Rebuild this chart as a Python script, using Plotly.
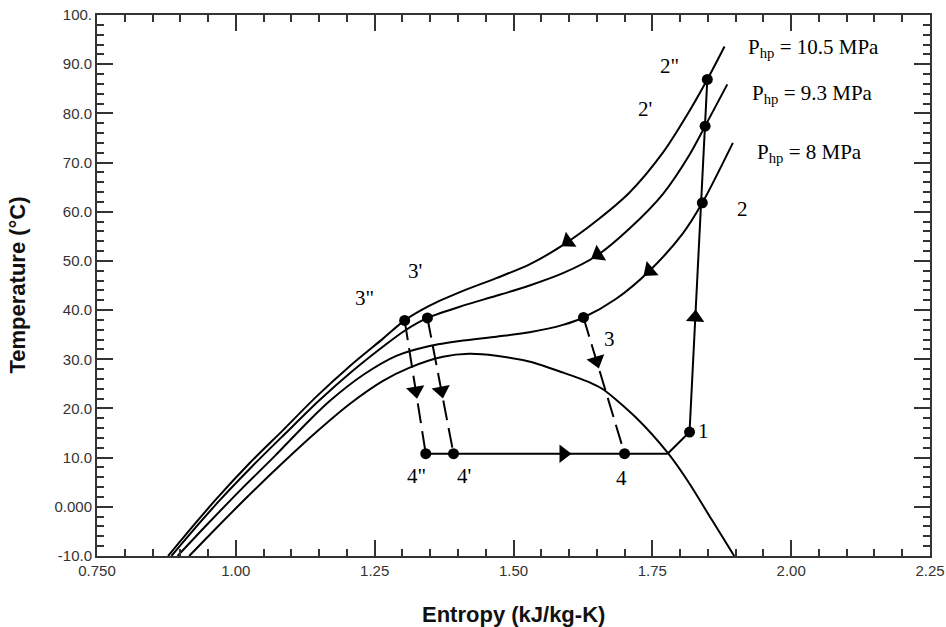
import numpy as np
import plotly.graph_objects as go

# ---------------- data ----------------
# saturation dome of CO2
dome_s = [0.916, 0.965, 1.025, 1.085, 1.145, 1.205, 1.265, 1.313, 1.373, 1.42,
          1.469, 1.53, 1.589, 1.637, 1.661, 1.72, 1.7775, 1.8135, 1.858, 1.8975]
dome_T = [-10.0, -4.3, 2.5, 9.0, 15.2, 20.9, 25.6, 28.3, 30.5, 31.1,
          30.7, 29.5, 27.3, 25.3, 23.9, 18.2, 11.0, 5.3, -2.8, -10.0]

# isobar Php = 10.5 MPa
p105_s = [0.878, 0.905, 0.965, 1.025, 1.085, 1.145, 1.205, 1.265, 1.304, 1.349,
          1.409, 1.469, 1.529, 1.589, 1.649, 1.709, 1.769, 1.81, 1.849, 1.88]
p105_T = [-10.0, -6.3, 1.6, 8.9, 15.6, 22.4, 28.6, 34.2, 37.9, 40.9,
          43.9, 46.5, 49.3, 53.2, 58.1, 63.9, 72.0, 79.2, 86.9, 93.6]

# isobar Php = 9.3 MPa
p93_s = [0.884, 0.91, 0.97, 1.03, 1.09, 1.15, 1.21, 1.27, 1.304, 1.345,
         1.409, 1.469, 1.529, 1.589, 1.649, 1.709, 1.769, 1.817, 1.845, 1.885]
p93_T = [-10.0, -6.5, 1.2, 8.3, 15.0, 21.6, 27.6, 33.0, 35.8, 38.4,
         40.9, 42.9, 45.0, 47.5, 51.0, 56.6, 63.6, 71.6, 77.4, 85.9]

# isobar Php = 8 MPa
p80_s = [0.895, 0.95, 1.01, 1.07, 1.13, 1.17, 1.229, 1.289, 1.349, 1.409,
         1.469, 1.529, 1.589, 1.626, 1.685, 1.745, 1.805, 1.84, 1.895]
p80_T = [-10.0, -3.4, 3.6, 10.3, 17.3, 21.6, 26.8, 30.7, 32.7, 33.8,
         34.6, 35.5, 37.0, 38.5, 42.3, 48.0, 55.6, 61.8, 74.0]

# cycle state points
state_names = ["1", "2", "2'", "2\"", "3", "3'", "3\"", "4", "4'", "4\""]
state_s = [1.817, 1.84, 1.845, 1.849, 1.626, 1.345, 1.304, 1.700, 1.392, 1.342]
state_T = [15.2, 61.8, 77.4, 86.9, 38.5, 38.4, 37.9, 10.8, 10.8, 10.8]
sat_vapour_s = 1.7775   # evaporator line meets the dome here
T_evap = 10.8

# isobar labels
isobar_labels = ["P<sub>hp</sub> = 10.5 MPa", "P<sub>hp</sub> = 9.3 MPa", "P<sub>hp</sub> = 8 MPa"]

# axis ticks
x_ticks = [0.75, 1.0, 1.25, 1.5, 1.75, 2.0, 2.25]
x_text = ["0.750", "1.00", "1.25", "1.50", "1.75", "2.00", "2.25"]
y_ticks = [-10, 0, 10, 20, 30, 40, 50, 60, 70, 80, 90, 100]
y_text = ["-10.0", "0.000", "10.0", "20.0", "30.0", "40.0", "50.0", "60.0", "70.0", "80.0", "90.0", "100."]

# ---------------- figure ----------------
W, H = 946, 627
ML, MR, MT, MB = 97, 16, 15, 71
XR = [0.75, 2.25]
YR = [-10, 100]
pw, ph = W - ML - MR, H - MT - MB
kx = pw / (XR[1] - XR[0])
ky = ph / (YR[1] - YR[0])

st = dict(zip(state_names, zip(state_s, state_T)))

fig = go.Figure()
LINE = dict(color="black", width=2)


def curve(s, T, **kw):
    fig.add_trace(go.Scatter(x=s, y=T, mode="lines", line=dict(LINE, **kw),
                             showlegend=False, hoverinfo="skip"))


# dome and isobars
curve(dome_s, dome_T, shape="spline", smoothing=0.8)
curve(p105_s, p105_T, shape="spline", smoothing=0.8)
curve(p93_s, p93_T, shape="spline", smoothing=0.8)
curve(p80_s, p80_T, shape="spline", smoothing=0.8)

# compression 1 -> 2''
curve([st["1"][0], st["2\""][0]], [st["1"][1], st["2\""][1]])
# superheat: dome -> 1
curve([sat_vapour_s, st["1"][0]], [T_evap, st["1"][1]])
# evaporation 4'' -> saturated vapour
curve([st["4\""][0], sat_vapour_s], [T_evap, T_evap])
# expansion (dashed)
for a, b in [("3\"", "4\""), ("3'", "4'"), ("3", "4")]:
    curve([st[a][0], st[b][0]], [st[a][1], st[b][1]], dash="20px,8px")

# state dots
fig.add_trace(go.Scatter(x=state_s, y=state_T, mode="markers",
                         marker=dict(color="black", size=11, symbol="circle"),
                         showlegend=False, hoverinfo="skip"))


# arrows (triangles oriented along the path direction)
def angle(ds, dT):
    dx = ds * kx
    dy = -dT * ky
    return float(np.degrees(np.arctan2(dx, -dy)))


arr_x, arr_y, arr_a = [], [], []
# along isobars, towards lower entropy
for s_arr, (cs, cT) in [(1.598, (p105_s, p105_T)), (1.652, (p93_s, p93_T)), (1.745, (p80_s, p80_T))]:
    T0 = float(np.interp(s_arr, cs, cT))
    T1 = float(np.interp(s_arr - 0.01, cs, cT))
    arr_x.append(s_arr); arr_y.append(T0); arr_a.append(angle(-0.01, T1 - T0))
# compression arrow
s1, T1_ = st["1"]; s2, T2_ = st["2\""]
Ta = 38.5
arr_x.append(s1 + (s2 - s1) * (Ta - T1_) / (T2_ - T1_)); arr_y.append(Ta)
arr_a.append(angle(s2 - s1, T2_ - T1_))
# evaporator arrow
arr_x.append(1.59); arr_y.append(T_evap); arr_a.append(angle(1, 0))
# expansion arrows
for a, b, Tm in [("3\"", "4\"", 23.6), ("3'", "4'", 23.6), ("3", "4", 29.7)]:
    (sa, ta), (sb, tb) = st[a], st[b]
    arr_x.append(sa + (sb - sa) * (Tm - ta) / (tb - ta)); arr_y.append(Tm)
    arr_a.append(angle(sb - sa, tb - ta))

fig.add_trace(go.Scatter(x=arr_x, y=arr_y, mode="markers",
                         marker=dict(color="black", size=16, symbol="triangle-up",
                                     angle=arr_a, line=dict(width=0)),
                         showlegend=False, hoverinfo="skip"))

# text labels
SERIF = dict(family="Liberation Serif, Times New Roman, serif", size=21, color="black")
label_pos = {"2\"": (1.781, 89.6), "2'": (1.736, 80.9), "2": (1.912, 60.5),
             "3\"": (1.232, 42.5), "3'": (1.322, 48.0), "3": (1.673, 34.1),
             "1": (1.843, 15.4), "4": (1.694, 5.9), "4\"": (1.326, 6.3), "4'": (1.410, 6.3)}
for name in state_names:
    x, y = label_pos[name]
    fig.add_annotation(x=x, y=y, text=name, showarrow=False, font=SERIF,
                       xanchor="center", yanchor="middle")
for txt, (x, y) in zip(isobar_labels, [(1.919, 93.3), (1.925, 83.9), (1.934, 72.0)]):
    fig.add_annotation(x=x, y=y, text=txt, showarrow=False, font=SERIF,
                       xanchor="left", yanchor="middle")

# axis titles
TFONT = dict(family="Liberation Sans, Arial, sans-serif", size=22, color="#111")
fig.add_annotation(xref="paper", yref="paper", x=0.5, y=(556 - 614) / ph,
                   text="<b>Entropy (kJ/kg-K)</b>", showarrow=False, font=TFONT,
                   xanchor="center", yanchor="middle")
fig.add_annotation(xref="paper", yref="paper", x=(17 - ML) / pw, y=0.5,
                   text="<b>Temperature (°C)</b>", showarrow=False, font=TFONT,
                   textangle=-90, xanchor="center", yanchor="middle")

AX = dict(showgrid=False, zeroline=False, showline=True, linecolor="#333", linewidth=2,
          mirror="ticks", ticks="inside", ticklen=16, tickwidth=1.5, tickcolor="#333",
          automargin=False,
          tickfont=dict(family="Liberation Sans, Arial, sans-serif", size=15, color="#333"))

fig.update_xaxes(AX, range=XR, tickvals=x_ticks, ticktext=x_text,
                 minor=dict(ticks="inside", ticklen=7, tickwidth=1.5, tickcolor="#333",
                            dtick=0.05, tick0=0.75, showgrid=False))
fig.update_yaxes(AX, range=YR, tickvals=y_ticks, ticktext=y_text,
                 minor=dict(ticks="inside", ticklen=7, tickwidth=1.5, tickcolor="#333",
                            dtick=2, tick0=0, showgrid=False))

fig.update_layout(width=W, height=H, autosize=False,
                  margin=dict(l=ML, r=MR, t=MT, b=MB, pad=0, autoexpand=False),
                  paper_bgcolor="white", plot_bgcolor="white", showlegend=False)

fig.write_html("out.html")
